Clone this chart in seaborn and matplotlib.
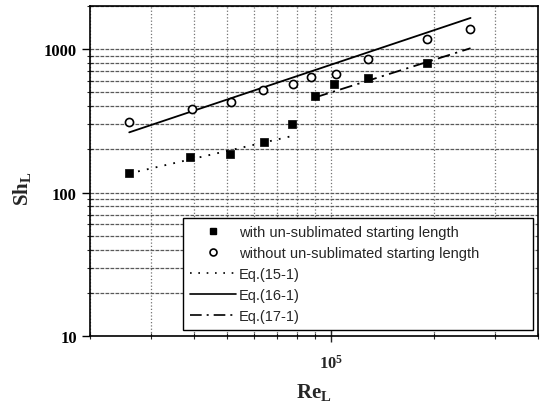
import numpy as np
import pandas as pd
import matplotlib
matplotlib.use("Agg")
import matplotlib.pyplot as plt
import matplotlib.ticker as mticker
from matplotlib.lines import Line2D
import seaborn as sns

re_with = [2.6e4, 3.9e4, 5.1e4, 6.4e4, 7.7e4, 9.0e4, 1.02e5, 1.28e5, 1.91e5]
sh_with = [136, 176, 187, 227, 302, 469, 575, 627, 805]

re_without = [2.6e4, 3.95e4, 5.15e4, 6.35e4, 7.8e4, 8.8e4, 1.04e5, 1.28e5, 1.91e5, 2.54e5]
sh_without = [309, 380, 426, 520, 575, 637, 675, 851, 1176, 1380]

# correlacoes (extremos das retas)
eq15_re = [2.6e4, 7.85e4]
eq15_sh = [136, 250]
eq16_re = [2.6e4, 2.55e5]
eq16_sh = [263, 1650]
eq17_re = [9.05e4, 2.55e5]
eq17_sh = [462, 1015]

legend_labels = ["with un-sublimated starting length",
                 "without un-sublimated starting length",
                 "Eq.(15-1)", "Eq.(16-1)", "Eq.(17-1)"]

sns.set_style("ticks")
plt.rcParams['font.family'] = ['Liberation Sans', 'DejaVu Sans']
plt.rcParams['mathtext.fontset'] = 'custom'
plt.rcParams['mathtext.rm'] = 'Liberation Serif'
plt.rcParams['mathtext.bf'] = 'Liberation Serif:bold'

fig = plt.figure(figsize=(5.4, 4.1), dpi=100)
ax = fig.add_axes([0.1667, 0.178, 0.8293, 0.805])

dotted = (0, (1, 4))
dashdot = (0, (7, 3, 1.2, 3))

sns.lineplot(x=eq15_re, y=eq15_sh, ax=ax, color='black', lw=1.3, linestyle=dotted)
sns.lineplot(x=eq16_re, y=eq16_sh, ax=ax, color='black', lw=1.3)
sns.lineplot(x=eq17_re, y=eq17_sh, ax=ax, color='black', lw=1.3, linestyle=dashdot)

sns.scatterplot(x=re_with, y=sh_with, ax=ax, marker='s', s=38, color='black',
                edgecolor='black', zorder=5)
sns.scatterplot(x=re_without, y=sh_without, ax=ax, marker='o', s=34, facecolor='white',
                edgecolor='black', linewidth=1.2, zorder=5)

ax.set_xscale('log')
ax.set_yscale('log')
ax.set_xlim(2e4, 4e5)
ax.set_ylim(10, 2000)

# grade
ax.yaxis.set_minor_locator(mticker.LogLocator(base=10, subs=np.arange(2, 10)))
ax.xaxis.set_minor_locator(mticker.LogLocator(base=10, subs=np.arange(2, 10)))
ax.xaxis.set_minor_formatter(mticker.NullFormatter())
ax.yaxis.set_minor_formatter(mticker.NullFormatter())
ax.grid(which='both', axis='y', color='0.35', ls=(0, (3, 1)), lw=0.9)
ax.grid(which='both', axis='x', color='0.45', ls=':', lw=0.9)

ax.set_xticks([1e5])
ax.set_xticklabels([r'$\mathbf{10^{5}}$'])
ax.set_yticks([10, 100, 1000])
ax.set_yticklabels(['10', '100', '1000'])
for t in ax.get_yticklabels():
    t.set_family('Liberation Serif')
    t.set_weight('bold')
    t.set_fontsize(12)
for t in ax.get_xticklabels():
    t.set_fontsize(12)

ax.tick_params(which='major', axis='y', direction='out', length=6, width=1, colors='black')
ax.tick_params(which='major', axis='x', direction='inout', length=8, width=1, pad=8)
ax.tick_params(which='minor', direction='inout', length=5, width=0.8)

for sp in ax.spines.values():
    sp.set_color('black')
    sp.set_linewidth(1.2)

ax.set_xlabel(r'$\mathbf{Re}_{\mathbf{L}}$', fontsize=15, labelpad=8)
ax.set_ylabel(r'$\mathbf{Sh}_{\mathbf{L}}$', fontsize=15)
ax.yaxis.set_label_coords(-0.125, 0.45)

handles = [
    Line2D([], [], ls='none', marker='s', color='black', markersize=5),
    Line2D([], [], ls='none', marker='o', markerfacecolor='white', markeredgecolor='black',
           markeredgewidth=1.2, markersize=5),
    Line2D([], [], color='black', lw=1.2, ls=dotted),
    Line2D([], [], color='black', lw=1.2),
    Line2D([], [], color='black', lw=1.2, ls=dashdot),
]
leg = ax.legend(handles, legend_labels, loc='lower left',
                bbox_to_anchor=(0.208, 0.018, 0.781, 0.36), mode='expand',
                fontsize=10.5, frameon=True, fancybox=False, framealpha=1,
                edgecolor='black', handlelength=3.1, handletextpad=0.2,
                labelspacing=0.47, borderpad=0.5, borderaxespad=0)
leg.get_frame().set_linewidth(1.0)

fig.savefig('out.png', dpi=100)
